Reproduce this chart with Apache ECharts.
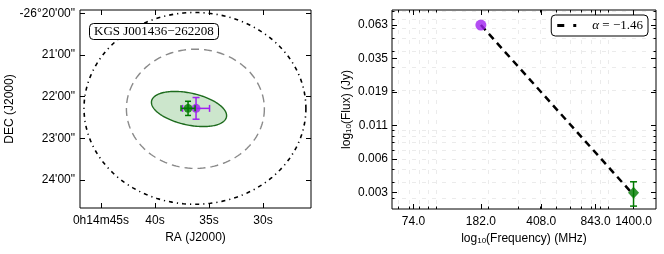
<!DOCTYPE html>
<html>
<head>
<meta charset="utf-8">
<script src="https://cdn.jsdelivr.net/npm/echarts@6/dist/echarts.min.js"></script>
<style>html,body{margin:0;padding:0;background:#fff}#c{width:664px;height:254px}</style>
</head>
<body>
<div id="c"></div>
<script>
// ---------- Left panel data (RA in seconds of 0h14m, Dec in arcmin below -26°) ----------
const raTicks = [45, 40, 35, 30];
const raTickLabels = ['0h14m45s', '40s', '35s', '30s'];
const decTicks = [20, 21, 22, 23, 24];
const decTickLabels = ['-26°20\'00"', '21\'00"', '22\'00"', '23\'00"', '24\'00"'];
const raRange = [25.56, 46.94];
const decRange = [19.92, 24.67];

const regionNames = ['search', 'beam', 'source'];
const regionRA = [36.30, 36.26, 36.85];
const regionDec = [22.28, 22.29, 22.295];
const regionMajor = [2.30, 1.43, 0.80];   // arcmin
const regionMinor = [2.30, 1.43, 0.38];   // arcmin
const regionPA = [0, 0, 15];              // deg

const srcNames = ['GLEAM', 'NVSS'];
const srcRA = [36.20, 36.94];
const srcDec = [22.28, 22.28];
const srcRAErr = [1.25, 0.65];   // s
const srcDecErr = [0.26, 0.17];  // arcmin

const labelText = 'KGS J001436\u2212262208';

// ---------- Right panel data ----------
const freqTicks = [74, 182, 408, 843, 1400];
const freqTickLabels = ['74.0', '182.0', '408.0', '843.0', '1400.0'];
const freqMinor = [60, 70, 80, 90, 100, 200, 300, 400, 500, 600, 700, 800, 900, 1000];
const fluxTicks = [0.00333, 0.0060, 0.0108, 0.0194, 0.035, 0.063];
const fluxTickLabels = ['0.003', '0.006', '0.011', '0.019', '0.035', '0.063'];
const fluxMinor = [0.003, 0.004, 0.005, 0.006, 0.007, 0.008, 0.009, 0.01, 0.02, 0.03, 0.04, 0.05, 0.06, 0.07, 0.08];
const freqRange = [55.5, 1890];
const fluxRange = [0.0025, 0.082];

const specFreq = [182, 1400];
const specFlux = [0.063, 0.00333];
const specErr = [0, 0.0007];
const fitFreq = [182, 1400];
const fitFlux = [0.063, 0.0032];
const fitName = 'alpha';
const fitLabel = '\u22121.46';

// ---------- helpers ----------
const L = Math.log10;
const SEC_PER_ARCMIN = 4 / Math.cos(26.37 * Math.PI / 180);
const FONT = 'Liberation Sans';
const tickFmt = (vals, labels, tf) => (v) => {
  for (let i = 0; i < vals.length; i++) if (Math.abs((tf ? tf(vals[i]) : vals[i]) - v) < 1e-6) return labels[i];
  return '';
};
const majorTick = {show: true, inside: true, length: 5, lineStyle: {color: '#000', width: 1}};
const minorTickLen = 2.5;

const regionStyles = [
  {fill: 'none', stroke: '#000', lineWidth: 1.6, lineDash: [4, 4, 1.2, 4]},
  {fill: 'none', stroke: '#8a8a8a', lineWidth: 1.4, lineDash: [8, 5]},
  {fill: 'rgba(0,128,0,0.2)', stroke: '#1d6b1d', lineWidth: 1.4}
];
const srcColors = ['#a020f0', '#007a00'];

function ellipseItem(params, api) {
  const i = params.dataIndex;
  const ra0 = api.value(0), dec0 = api.value(1), a = api.value(2), b = api.value(3);
  const pa = api.value(4) * Math.PI / 180;
  const pts = [];
  for (let k = 0; k < 180; k++) {
    const t = 2 * Math.PI * k / 180;
    const dx = a * Math.cos(t) * Math.cos(pa) - b * Math.sin(t) * Math.sin(pa);
    const dy = a * Math.cos(t) * Math.sin(pa) + b * Math.sin(t) * Math.cos(pa);
    pts.push(api.coord([ra0 - dx * SEC_PER_ARCMIN, dec0 + dy]));
  }
  return {type: 'polygon', shape: {points: pts}, style: regionStyles[i]};
}

function errItem(color, cap) {
  return function (params, api) {
    const x = api.value(0), y = api.value(1), ex = api.value(2), ey = api.value(3);
    const ch = [];
    const st = {stroke: color, lineWidth: 1.5};
    if (ex > 0) {
      const p1 = api.coord([x - ex, y]), p2 = api.coord([x + ex, y]);
      ch.push({type: 'line', shape: {x1: p1[0], y1: p1[1], x2: p2[0], y2: p2[1]}, style: st});
      ch.push({type: 'line', shape: {x1: p1[0], y1: p1[1] - cap, x2: p1[0], y2: p1[1] + cap}, style: st});
      ch.push({type: 'line', shape: {x1: p2[0], y1: p2[1] - cap, x2: p2[0], y2: p2[1] + cap}, style: st});
    }
    if (ey > 0) {
      const p1 = api.coord([x, y - ey]), p2 = api.coord([x, y + ey]);
      ch.push({type: 'line', shape: {x1: p1[0], y1: p1[1], x2: p2[0], y2: p2[1]}, style: st});
      ch.push({type: 'line', shape: {x1: p1[0] - cap, y1: p1[1], x2: p1[0] + cap, y2: p1[1]}, style: st});
      ch.push({type: 'line', shape: {x1: p2[0] - cap, y1: p2[1], x2: p2[0] + cap, y2: p2[1]}, style: st});
    }
    return {type: 'group', children: ch};
  };
}

function logErrItem(color, cap) {
  return function (params, api) {
    const x = api.value(0), f = api.value(1), e = api.value(2);
    if (!(e > 0)) return {type: 'group', children: []};
    const p1 = api.coord([x, L(f - e)]), p2 = api.coord([x, L(f + e)]);
    const st = {stroke: color, lineWidth: 1.5};
    return {type: 'group', children: [
      {type: 'line', shape: {x1: p1[0], y1: p1[1], x2: p2[0], y2: p2[1]}, style: st},
      {type: 'line', shape: {x1: p1[0] - cap, y1: p1[1], x2: p1[0] + cap, y2: p1[1]}, style: st},
      {type: 'line', shape: {x1: p2[0] - cap, y1: p2[1], x2: p2[0] + cap, y2: p2[1]}, style: st}
    ]};
  };
}

const subRich = {
  n: {fontFamily: FONT, fontSize: 12, color: '#000', verticalAlign: 'bottom'},
  s: {fontFamily: FONT, fontSize: 8, color: '#000', verticalAlign: 'bottom'}
};
const gridLine = {color: '#ebebeb', width: 1, type: [4, 6]};

// ---------- axes ----------
const xAxes = [
  {gridIndex: 0, type: 'value', position: 'bottom', inverse: true, min: raRange[0], max: raRange[1],
   axisLine: {show: false, onZero: false}, splitLine: {show: false},
   axisTick: Object.assign({customValues: raTicks}, majorTick),
   axisLabel: {customValues: raTicks, formatter: tickFmt(raTicks, raTickLabels), fontFamily: FONT, fontSize: 12, color: '#000', margin: 7},
   name: 'RA (J2000)', nameLocation: 'middle', nameGap: 22, nameTextStyle: {fontFamily: FONT, fontSize: 12, color: '#000'}},
  {gridIndex: 0, type: 'value', position: 'top', inverse: true, min: raRange[0], max: raRange[1],
   axisLine: {show: false, onZero: false}, splitLine: {show: false}, axisLabel: {show: false},
   axisTick: Object.assign({customValues: raTicks}, majorTick)},
  {gridIndex: 1, type: 'value', position: 'bottom', min: L(freqRange[0]), max: L(freqRange[1]),
   axisLine: {show: false, onZero: false}, splitLine: {show: false},
   axisTick: Object.assign({customValues: freqTicks.map(L)}, majorTick),
   axisLabel: {customValues: freqTicks.map(L), formatter: tickFmt(freqTicks, freqTickLabels, L), fontFamily: FONT, fontSize: 12, color: '#000', margin: 7},
   name: '{n|log}{s|10}{n|(Frequency) (MHz)}', nameLocation: 'middle', nameGap: 22,
   nameTextStyle: {rich: subRich}},
  {gridIndex: 1, type: 'value', position: 'bottom', min: L(freqRange[0]), max: L(freqRange[1]),
   axisLine: {show: false, onZero: false}, axisLabel: {show: false},
   axisTick: {show: true, inside: true, length: minorTickLen, customValues: freqMinor.map(L), lineStyle: {color: '#000', width: 1}},
   splitLine: {show: true, customValues: freqMinor.map(L), lineStyle: gridLine}},
  {gridIndex: 1, type: 'value', position: 'top', min: L(freqRange[0]), max: L(freqRange[1]),
   axisLine: {show: false, onZero: false}, splitLine: {show: false}, axisLabel: {show: false},
   axisTick: Object.assign({customValues: freqTicks.map(L)}, majorTick)},
  {gridIndex: 1, type: 'value', position: 'top', min: L(freqRange[0]), max: L(freqRange[1]),
   axisLine: {show: false, onZero: false}, splitLine: {show: false}, axisLabel: {show: false},
   axisTick: {show: true, inside: true, length: minorTickLen, customValues: freqMinor.map(L), lineStyle: {color: '#000', width: 1}}}
];

const yAxes = [
  {gridIndex: 0, type: 'value', position: 'left', inverse: true, min: decRange[0], max: decRange[1],
   axisLine: {show: false, onZero: false}, splitLine: {show: false},
   axisTick: Object.assign({customValues: decTicks}, majorTick),
   axisLabel: {customValues: decTicks, formatter: tickFmt(decTicks, decTickLabels), fontFamily: FONT, fontSize: 12, color: '#000', margin: 5},
   name: 'DEC (J2000)', nameLocation: 'middle', nameGap: 61, nameTextStyle: {fontFamily: FONT, fontSize: 12, color: '#000'}},
  {gridIndex: 0, type: 'value', position: 'right', inverse: true, min: decRange[0], max: decRange[1],
   axisLine: {show: false, onZero: false}, splitLine: {show: false}, axisLabel: {show: false},
   axisTick: Object.assign({customValues: decTicks}, majorTick)},
  {gridIndex: 1, type: 'value', position: 'left', min: L(fluxRange[0]), max: L(fluxRange[1]),
   axisLine: {show: false, onZero: false}, splitLine: {show: false},
   axisTick: Object.assign({customValues: fluxTicks.map(L)}, majorTick),
   axisLabel: {customValues: fluxTicks.map(L), formatter: tickFmt(fluxTicks, fluxTickLabels, L), fontFamily: FONT, fontSize: 12, color: '#000', margin: 4},
   name: '{n|log}{s|10}{n|(Flux) (Jy)}', nameLocation: 'middle', nameGap: 39,
   nameTextStyle: {rich: subRich}},
  {gridIndex: 1, type: 'value', position: 'left', min: L(fluxRange[0]), max: L(fluxRange[1]),
   axisLine: {show: false, onZero: false}, axisLabel: {show: false},
   axisTick: {show: true, inside: true, length: minorTickLen, customValues: fluxMinor.map(L), lineStyle: {color: '#000', width: 1}},
   splitLine: {show: true, customValues: fluxMinor.map(L), lineStyle: gridLine}},
  {gridIndex: 1, type: 'value', position: 'right', min: L(fluxRange[0]), max: L(fluxRange[1]),
   axisLine: {show: false, onZero: false}, splitLine: {show: false}, axisLabel: {show: false},
   axisTick: Object.assign({customValues: fluxTicks.map(L)}, majorTick)},
  {gridIndex: 1, type: 'value', position: 'right', min: L(fluxRange[0]), max: L(fluxRange[1]),
   axisLine: {show: false, onZero: false}, splitLine: {show: false}, axisLabel: {show: false},
   axisTick: {show: true, inside: true, length: minorTickLen, customValues: fluxMinor.map(L), lineStyle: {color: '#000', width: 1}}}
];

// ---------- series ----------
const series = [
  {type: 'custom', name: 'regions', xAxisIndex: 0, yAxisIndex: 0, renderItem: ellipseItem, clip: true, silent: true,
   data: regionNames.map((n, i) => [regionRA[i], regionDec[i], regionMajor[i], regionMinor[i], regionPA[i]])},
  {type: 'custom', name: 'err0', xAxisIndex: 0, yAxisIndex: 0, renderItem: errItem(srcColors[0], 3.5), silent: true,
   data: [[srcRA[0], srcDec[0], srcRAErr[0], srcDecErr[0]]], z: 3},
  {type: 'scatter', name: srcNames[0], xAxisIndex: 0, yAxisIndex: 0, symbol: 'circle', symbolSize: 9,
   itemStyle: {color: srcColors[0]}, data: [[srcRA[0], srcDec[0]]], z: 4},
  {type: 'custom', name: 'err1', xAxisIndex: 0, yAxisIndex: 0, renderItem: errItem(srcColors[1], 3), silent: true,
   data: [[srcRA[1], srcDec[1], srcRAErr[1], srcDecErr[1]]], z: 5},
  {type: 'scatter', name: srcNames[1], xAxisIndex: 0, yAxisIndex: 0, symbol: 'circle', symbolSize: 8.5,
   itemStyle: {color: srcColors[1]}, data: [[srcRA[1], srcDec[1]]], z: 6},

  {type: 'line', name: fitName, xAxisIndex: 2, yAxisIndex: 2, symbol: 'none',
   itemStyle: {color: '#000'},
   lineStyle: {color: '#000', width: 2.5, type: [7, 5]},
   data: fitFreq.map((f, i) => [L(f), L(fitFlux[i])]), z: 3},
  {type: 'custom', name: 'specErr', xAxisIndex: 2, yAxisIndex: 2, renderItem: logErrItem(srcColors[1], 3.5), silent: true,
   data: specFreq.map((f, i) => [L(f), specFlux[i], specErr[i]]), z: 4},
  {type: 'scatter', name: 'spec0', xAxisIndex: 2, yAxisIndex: 2, symbol: 'circle', symbolSize: 11,
   itemStyle: {color: srcColors[0]}, data: [[L(specFreq[0]), L(specFlux[0])]], z: 5},
  {type: 'scatter', name: 'spec1', xAxisIndex: 2, yAxisIndex: 2, symbol: 'diamond', symbolSize: [11, 12],
   itemStyle: {color: srcColors[1]}, data: [[L(specFreq[1]), L(specFlux[1])]], z: 5}
];

const chart = echarts.init(document.getElementById('c'), null, {renderer: 'canvas'});
chart.setOption({
  animation: false,
  backgroundColor: '#fff',
  grid: [
    {left: 80, top: 10, width: 231, height: 198, show: true, borderColor: '#000', borderWidth: 1, backgroundColor: 'transparent', containLabel: false},
    {left: 392, top: 10, width: 264, height: 199, show: true, borderColor: '#000', borderWidth: 1, backgroundColor: 'transparent', containLabel: false}
  ],
  title: {
    text: labelText, left: 89, top: 23, padding: [2, 5, 2, 5],
    borderColor: '#000', borderWidth: 1, borderRadius: 4, backgroundColor: '#fff',
    textStyle: {fontFamily: 'Liberation Serif', fontSize: 13, fontWeight: 'normal', color: '#000'}
  },
  legend: {
    data: [{name: fitName, icon: 'path://M0,0L7,0L7,3L0,3Z M16,0L19,0L19,3L16,3Z'}],
    right: 16, top: 15, orient: 'horizontal',
    borderColor: '#000', borderWidth: 1, borderRadius: 4, backgroundColor: '#fff',
    padding: [4, 5, 4, 6], itemWidth: 19, itemHeight: 3, itemGap: 4,
    itemStyle: {color: '#000', borderWidth: 0},
    formatter: () => '{i|\u03b1}{t| = ' + fitLabel + '}',
    textStyle: {rich: {
      i: {fontFamily: 'Liberation Serif', fontStyle: 'italic', fontSize: 13, color: '#000', padding: [0, 0, 0, 11]},
      t: {fontFamily: 'Liberation Serif', fontSize: 13, color: '#000'}
    }}
  },
  xAxis: xAxes,
  yAxis: yAxes,
  series: series
});
</script>
</body>
</html>
